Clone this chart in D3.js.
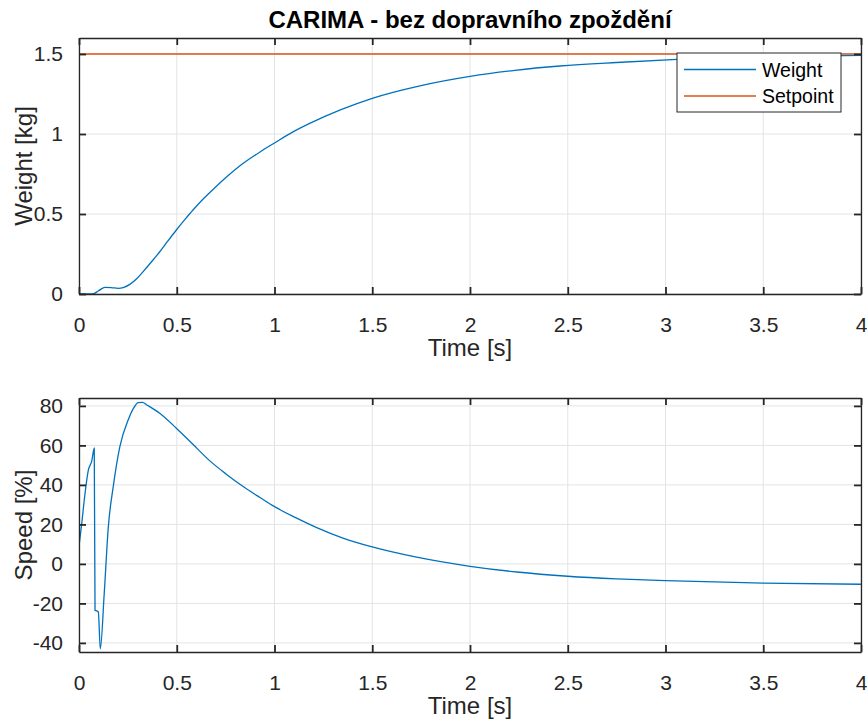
<!DOCTYPE html>
<html>
<head>
<meta charset="utf-8">
<script src="https://cdn.jsdelivr.net/npm/d3@7"></script>
<style>
  body { margin: 0; background: #fff; }
  svg { display: block; font-family: "Liberation Sans", Arial, sans-serif; }
</style>
</head>
<body>
<div id="chart"></div>
<script>
// weight response (top panel)
const weightTime = [0, 0.07, 0.1, 0.133, 0.165, 0.2, 0.23, 0.26, 0.295, 0.328, 0.37, 0.413, 0.455, 0.498, 0.54, 0.583, 0.64, 0.70, 0.76, 0.82, 0.926, 1.0, 1.09, 1.18, 1.34, 1.5, 1.744, 2.0, 2.23, 2.46, 2.75, 3.06, 3.5, 4.0];
const weightValues = [0, 0, 0.02, 0.042, 0.04, 0.035, 0.042, 0.06, 0.095, 0.14, 0.2, 0.264, 0.332, 0.4, 0.463, 0.525, 0.6, 0.67, 0.737, 0.798, 0.888, 0.944, 1.010, 1.066, 1.152, 1.223, 1.301, 1.36, 1.398, 1.425, 1.447, 1.466, 1.482, 1.491];
const setpointTime = [0, 4];
const setpointValues = [1.5, 1.5];

// controller output (bottom panel)
const speedTime = [0, 0.014, 0.03, 0.048, 0.065, 0.078, 0.082, 0.092, 0.099, 0.109, 0.129, 0.15, 0.175, 0.209, 0.252, 0.28, 0.303, 0.325, 0.345, 0.413, 0.498, 0.58, 0.668, 0.75, 0.838, 0.926, 1.0, 1.1, 1.216, 1.35, 1.5, 1.727, 2.0, 2.24, 2.5, 2.75, 3.0, 3.5, 4.0];
const speedValues = [9, 20.5, 35, 47.6, 52, 58.6, -23.5, -23.8, -24.4, -43, -15, 18.8, 39, 59.4, 73, 79, 81.7, 81.8, 80.6, 76.3, 68.7, 60.8, 52.3, 45.7, 39.3, 33.6, 29, 23.8, 18.4, 13.1, 8.6, 3.4, -1.2, -4.1, -6.25, -7.6, -8.5, -9.7, -10.3];

const timeTicks = [0, 0.5, 1, 1.5, 2, 2.5, 3, 3.5, 4];
const weightTicks = [0, 0.5, 1, 1.5];
const speedTicks = [-40, -20, 0, 20, 40, 60, 80];

const W = 867, H = 724;
const axisColor = '#262626';
const gridColor = '#e3e3e3';
const blue = '#0072BD', orange = '#D95319';

const svg = d3.select('#chart').append('svg')
    .attr('width', W)
    .attr('height', H);

svg.append('text')
    .attr('x', 470)
    .attr('y', 28)
    .attr('text-anchor', 'middle')
    .attr('font-size', 24)
    .attr('font-weight', 'bold')
    .attr('fill', '#000')
    .text('CARIMA - bez dopravního zpoždění');

function drawPanel(opts) {
    const x = d3.scaleLinear().domain([0, 4]).range([79, 861]);
    const y = d3.scaleLinear().domain(opts.yDomain).range([opts.bottom, opts.top]);
    const g = svg.append('g');
    const clipId = 'clip' + opts.top;

    g.append('clipPath').attr('id', clipId)
        .append('rect')
        .attr('x', 79).attr('y', opts.top)
        .attr('width', 782).attr('height', opts.bottom - opts.top);

    // grid
    g.selectAll('.vgrid').data(timeTicks).enter().append('line')
        .attr('x1', d => x(d)).attr('x2', d => x(d))
        .attr('y1', opts.top).attr('y2', opts.bottom)
        .attr('stroke', gridColor);
    g.selectAll('.hgrid').data(opts.yTicks).enter().append('line')
        .attr('x1', 79).attr('x2', 861)
        .attr('y1', d => y(d)).attr('y2', d => y(d))
        .attr('stroke', gridColor);

    // series
    const line = d3.line().curve(d3.curveMonotoneX).x(d => x(d[0])).y(d => y(d[1]));
    opts.series.forEach(s => {
        g.append('path')
            .datum(d3.zip(s.t, s.v))
            .attr('clip-path', `url(#${clipId})`)
            .attr('fill', 'none')
            .attr('stroke', s.color)
            .attr('stroke-width', 1.3)
            .attr('d', line);
    });

    // axes, ticks inside on all four sides
    const fmt = d => String(d);
    const bottomAxis = g.append('g').attr('transform', `translate(0,${opts.bottom})`)
        .call(d3.axisBottom(x).tickValues(timeTicks).tickFormat(fmt).tickSizeInner(-7).tickSizeOuter(0).tickPadding(23));
    const topAxis = g.append('g').attr('transform', `translate(0,${opts.top})`)
        .call(d3.axisTop(x).tickValues(timeTicks).tickFormat('').tickSizeInner(-7).tickSizeOuter(0));
    const leftAxis = g.append('g').attr('transform', 'translate(79,0)')
        .call(d3.axisLeft(y).tickValues(opts.yTicks).tickFormat(fmt).tickSizeInner(-7).tickSizeOuter(0).tickPadding(16));
    const rightAxis = g.append('g').attr('transform', 'translate(861,0)')
        .call(d3.axisRight(y).tickValues(opts.yTicks).tickFormat('').tickSizeInner(-7).tickSizeOuter(0));

    [bottomAxis, topAxis, leftAxis, rightAxis].forEach(a => {
        a.select('.domain').attr('stroke', axisColor).attr('stroke-width', 1.3);
        a.selectAll('.tick line').attr('stroke', axisColor).attr('stroke-width', 1.8);
        a.selectAll('.tick text').attr('fill', axisColor).attr('font-size', 21)
            .attr('font-family', '"Liberation Sans", Arial, sans-serif');
    });

    g.append('text')
        .attr('x', 470)
        .attr('y', opts.bottom + 62)
        .attr('text-anchor', 'middle')
        .attr('font-size', 24)
        .attr('fill', axisColor)
        .text('Time [s]');

    g.append('text')
        .attr('transform', `translate(32,${(opts.top + opts.bottom) / 2}) rotate(-90)`)
        .attr('text-anchor', 'middle')
        .attr('font-size', 24)
        .attr('fill', axisColor)
        .text(opts.yLabel);

    return g;
}

drawPanel({
    top: 38, bottom: 294,
    yDomain: [0, 1.6], yTicks: weightTicks,
    yLabel: 'Weight [kg]',
    series: [
        { t: weightTime, v: weightValues, color: blue },
        { t: setpointTime, v: setpointValues, color: orange }
    ]
});

drawPanel({
    top: 398, bottom: 652,
    yDomain: [-44.6, 84], yTicks: speedTicks,
    yLabel: 'Speed [%]',
    series: [
        { t: speedTime, v: speedValues, color: blue }
    ]
});

// legend
const legendItems = [
    { name: 'Weight', color: blue },
    { name: 'Setpoint', color: orange }
];
const legend = svg.append('g');
legend.append('rect')
    .attr('x', 677).attr('y', 53)
    .attr('width', 164).attr('height', 59)
    .attr('fill', '#fff')
    .attr('stroke', axisColor)
    .attr('stroke-width', 1);
legendItems.forEach((d, i) => {
    const yy = 69.5 + i * 26.5;
    legend.append('line')
        .attr('x1', 684).attr('x2', 756)
        .attr('y1', yy).attr('y2', yy)
        .attr('stroke', d.color).attr('stroke-width', 1.3);
    legend.append('text')
        .attr('x', 762).attr('y', yy + 7)
        .attr('font-size', 19.5)
        .attr('fill', '#000')
        .text(d.name);
});
</script>
</body>
</html>
